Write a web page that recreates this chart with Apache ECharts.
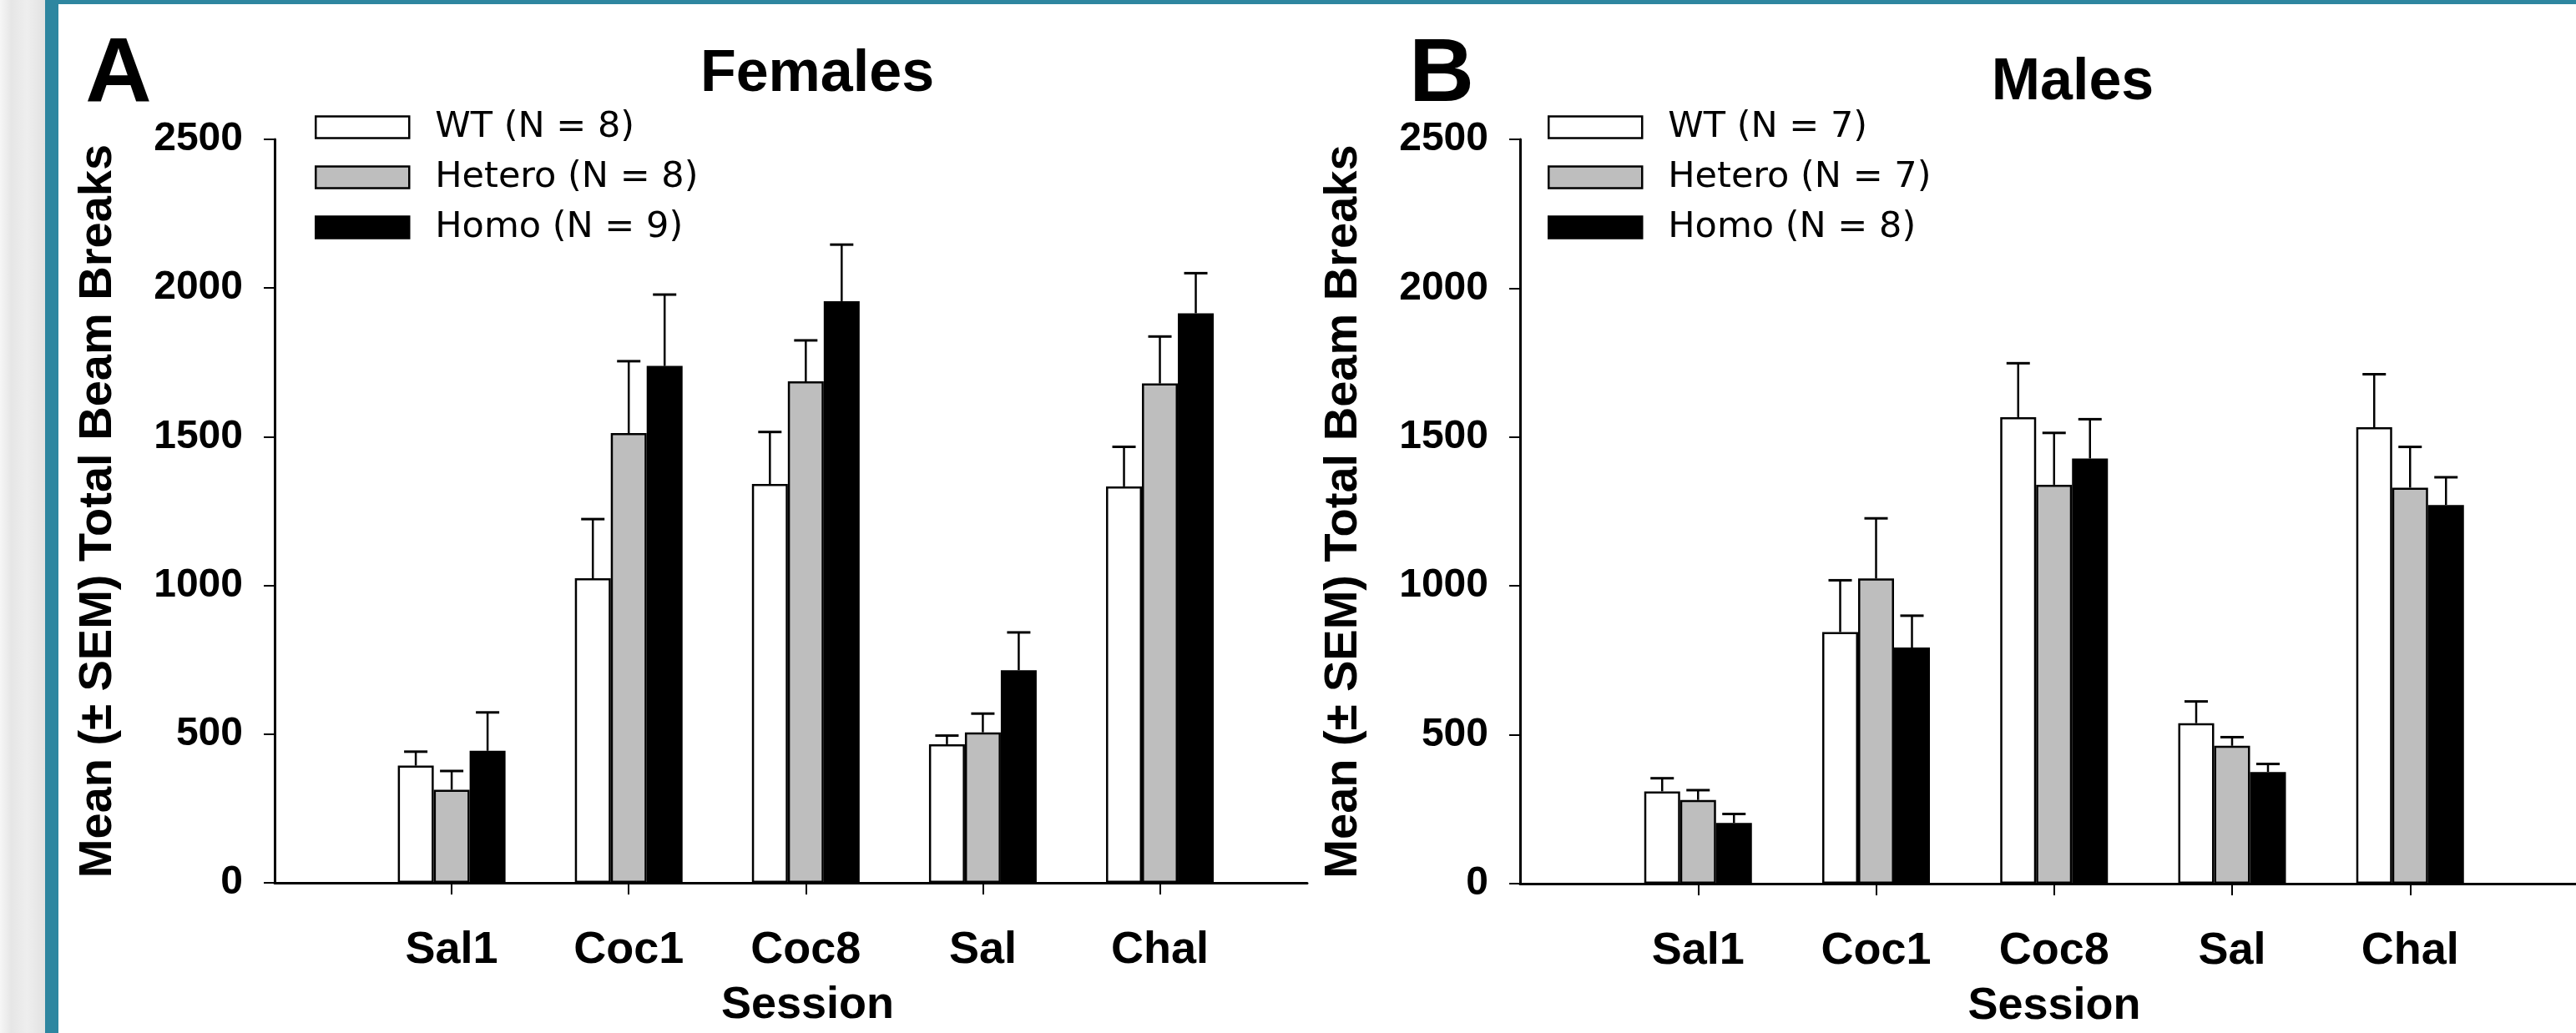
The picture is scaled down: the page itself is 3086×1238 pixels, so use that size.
<!DOCTYPE html>
<html>
<head>
<meta charset="utf-8">
<script src="https://cdn.jsdelivr.net/npm/echarts@6/dist/echarts.min.js"></script>
<style>
html,body{margin:0;padding:0;background:#fff;}
#c{width:3086px;height:1238px;}
</style>
</head>
<body>
<div id="c"></div>
<script>
// ---- data ----
const sessions = ['Sal1', 'Coc1', 'Coc8', 'Sal', 'Chal'];
const yTicks = [0, 500, 1000, 1500, 2000, 2500];

const femaleNames = ['WT (N = 8)', 'Hetero (N = 8)', 'Homo (N = 9)'];
const femaleWT = [394, 1024, 1341, 466, 1333];
const femaleWTsem = [47, 199, 175, 29, 133];
const femaleHet = [313, 1512, 1686, 506, 1679];
const femaleHetSem = [63, 242, 138, 63, 158];
const femaleHomo = [444, 1738, 1956, 715, 1915];
const femaleHomoSem = [129, 240, 190, 127, 135];

const maleNames = ['WT (N = 7)', 'Hetero (N = 7)', 'Homo (N = 8)'];
const maleWT = [310, 845, 1567, 539, 1533];
const maleWTsem = [44, 174, 181, 73, 178];
const maleHet = [281, 1025, 1340, 463, 1330];
const maleHetSem = [33, 202, 174, 29, 137];
const maleHomo = [204, 793, 1428, 375, 1272];
const maleHomoSem = [30, 107, 132, 27, 93];

// ---- styling ----
const FONT = '"Liberation Sans", Arial, Helvetica, sans-serif';
const LEG_FONT = '"DejaVu Sans", sans-serif';
const FILLS = ['#ffffff', '#bebebe', '#000000'];
const BAR_W = 43;
const LW = 3;

const chart = echarts.init(document.getElementById('c'), null, {renderer: 'canvas'});

function xAxisCfg(gridIndex, max, shift) {
  return {
    type: 'value', gridIndex: gridIndex, min: 0, max: max,
    name: 'Session', nameLocation: 'middle', nameGap: 120,
    nameTextStyle: {fontFamily: FONT, fontWeight: 'bold', fontSize: 54, color: '#000', padding: [0, 0, 0, shift]},
    axisLine: {show: true, onZero: false, lineStyle: {color: '#000', width: LW}},
    axisTick: {show: true, length: 14, inside: false, lineStyle: {color: '#000', width: 2}, customValues: [1, 2, 3, 4, 5]},
    axisLabel: {show: true, margin: 54, fontFamily: FONT, fontWeight: 'bold', fontSize: 54, color: '#000',
      customValues: [1, 2, 3, 4, 5],
      formatter: v => sessions[Math.round(v) - 1] || ''},
    splitLine: {show: false}
  };
}
function yAxisCfg(gridIndex) {
  return {
    type: 'value', gridIndex: gridIndex, min: yTicks[0], max: yTicks[yTicks.length - 1], interval: 500,
    name: 'Mean (\u00b1 SEM) Total Beam Breaks', nameLocation: 'middle', nameGap: 183,
    nameTextStyle: {fontFamily: FONT, fontWeight: 'bold', fontSize: 56, color: '#000'},
    axisLine: {show: true, lineStyle: {color: '#000', width: LW}},
    axisTick: {show: true, length: 13, lineStyle: {color: '#000', width: 2}},
    axisLabel: {margin: 38, fontFamily: FONT, fontWeight: 'bold', fontSize: 48, color: '#000',
      formatter: v => String(v)},
    splitLine: {show: false}
  };
}

function barSeries(name, values, idx, axisIdx) {
  return {
    type: 'bar', name: name, xAxisIndex: axisIdx, yAxisIndex: axisIdx,
    data: values.map((v, i) => [i + 1, v]),
    barWidth: BAR_W, barGap: '0%',
    itemStyle: {color: FILLS[idx], borderColor: '#000', borderWidth: 2.5},
    emphasis: {disabled: true}, z: 2
  };
}
function errSeries(name, values, sems, idx, axisIdx) {
  return {
    type: 'custom', name: name, xAxisIndex: axisIdx, yAxisIndex: axisIdx,
    data: values.map((v, i) => [i + 1, v, v + sems[i]]),
    encode: {x: 0, y: [1, 2]},
    z: 3, silent: true,
    renderItem: function (params, api) {
      const off = (idx - 1) * BAR_W;
      const p0 = api.coord([api.value(0), api.value(1)]);
      const p1 = api.coord([api.value(0), api.value(2)]);
      const cx = p0[0] + off;
      const half = 14;
      return {
        type: 'group',
        children: [
          {type: 'line', shape: {x1: cx, y1: p0[1], x2: cx, y2: p1[1]}, style: {stroke: '#000', lineWidth: 2.5}},
          {type: 'line', shape: {x1: cx - half, y1: p1[1], x2: cx + half, y2: p1[1]}, style: {stroke: '#000', lineWidth: LW}}
        ]
      };
    }
  };
}

function legendCfg(names, left) {
  return {
    data: names, orient: 'vertical', left: left, top: 131, padding: 0,
    itemWidth: 112, itemHeight: 26, itemGap: 17, icon: 'rect', selectedMode: false,
    itemStyle: {borderColor: '#000', borderWidth: 2.5},
    textStyle: {fontFamily: LEG_FONT, fontSize: 43, color: '#000', padding: [0, 0, 0, 26]}
  };
}

const option = {
  backgroundColor: '#ffffff',
  animation: false,
  grid: [
    {left: 329, top: 167, width: 1237, height: 891, containLabel: false},
    {left: 1821, top: 167, width: 1265, height: 895, containLabel: false}
  ],
  xAxis: [xAxisCfg(0, 5.832, 40), xAxisCfg(1, 5.932, 15)],
  yAxis: [yAxisCfg(0), yAxisCfg(1)],
  legend: [legendCfg(femaleNames, 377), legendCfg(maleNames, 1854)],
  graphic: [
    {type: 'rect', left: 0, top: 0, z: -10, shape: {width: 54, height: 1238},
      style: {fill: new echarts.graphic.LinearGradient(0, 0, 1, 0, [
        {offset: 0, color: '#f6f6f6'}, {offset: 0.25, color: '#e6e6e6'},
        {offset: 0.6, color: '#eeeeee'}, {offset: 1, color: '#e2e2e2'}])}},
    {type: 'rect', left: 54, top: 0, z: 10, shape: {width: 16, height: 1238}, style: {fill: '#2e86a0'}},
    {type: 'rect', left: 54, top: 0, z: 10, shape: {width: 3032, height: 5}, style: {fill: '#2e86a0'}},
    {type: 'text', x: 142, y: 91, z: 10, style: {text: 'A', font: 'bold 110px ' + FONT, fill: '#000', textAlign: 'center', textVerticalAlign: 'middle'}},
    {type: 'text', x: 1727, y: 91, z: 10, style: {text: 'B', font: 'bold 108px ' + FONT, fill: '#000', textAlign: 'center', textVerticalAlign: 'middle'}},
    {type: 'text', x: 979, y: 90, z: 10, style: {text: 'Females', font: 'bold 70px ' + FONT, fill: '#000', textAlign: 'center', textVerticalAlign: 'middle'}},
    {type: 'text', x: 2483, y: 100, z: 10, style: {text: 'Males', font: 'bold 70px ' + FONT, fill: '#000', textAlign: 'center', textVerticalAlign: 'middle'}}
  ],
  series: [
    barSeries(femaleNames[0], femaleWT, 0, 0),
    barSeries(femaleNames[1], femaleHet, 1, 0),
    barSeries(femaleNames[2], femaleHomo, 2, 0),
    errSeries('errF0', femaleWT, femaleWTsem, 0, 0),
    errSeries('errF1', femaleHet, femaleHetSem, 1, 0),
    errSeries('errF2', femaleHomo, femaleHomoSem, 2, 0),
    barSeries(maleNames[0], maleWT, 0, 1),
    barSeries(maleNames[1], maleHet, 1, 1),
    barSeries(maleNames[2], maleHomo, 2, 1),
    errSeries('errM0', maleWT, maleWTsem, 0, 1),
    errSeries('errM1', maleHet, maleHetSem, 1, 1),
    errSeries('errM2', maleHomo, maleHomoSem, 2, 1)
  ]
};
chart.setOption(option);
</script>
</body>
</html>
